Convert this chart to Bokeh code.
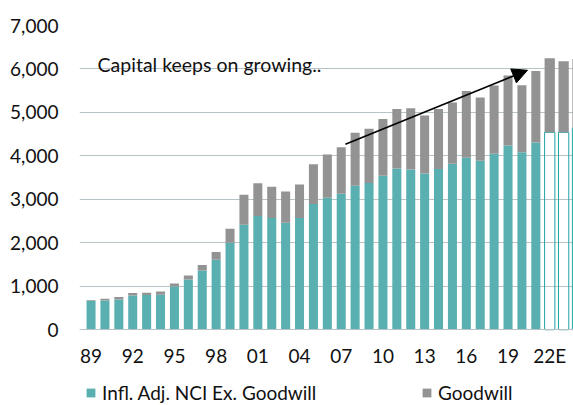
from bokeh.plotting import figure
from bokeh.models import (Range1d, FixedTicker, NumeralTickFormatter, Arrow,
                          NormalHead, Label, Legend, LegendItem, ColumnDataSource)
from bokeh.embed import file_html
from bokeh.resources import INLINE

# Capital by year: inflation-adjusted NCI excluding goodwill, plus goodwill
years = list(range(1989, 2025))
ex_goodwill = [660, 675, 698, 790, 797, 806, 997, 1158, 1365, 1612, 2003, 2418,
               2616, 2570, 2464, 2570, 2893, 3035, 3127, 3312, 3376, 3542, 3707,
               3684, 3592, 3698, 3822, 3960, 3891, 4052, 4237, 4082, 4306,
               4542, 4542, 4640]
goodwill = [20, 39, 53, 53, 55, 76, 69, 92, 123, 175, 322, 690, 756, 722, 716,
            770, 913, 997, 1071, 1223, 1248, 1308, 1373, 1412, 1335, 1382, 1404,
            1534, 1450, 1565, 1611, 1543, 1649, 1705, 1636, 1590]
first_estimate_year = 2022

tick_years = [1989, 1992, 1995, 1998, 2001, 2004, 2007, 2010, 2013, 2016, 2019, 2022]
tick_labels = ["89", "92", "95", "98", "01", "04", "07", "10", "13", "16", "19", "22E"]

TEAL = "#5aafb1"
TEAL_LINE = "#22a3a6"
GREY = "#939393"
GRID = "#b7c3c6"
INK = "#111111"
FONT = "Lato"
FS = "19px"

total = [a + b for a, b in zip(ex_goodwill, goodwill)]
actual = [i for i, y in enumerate(years) if y < first_estimate_year]
est = [i for i, y in enumerate(years) if y >= first_estimate_year]

src_act = ColumnDataSource(dict(x=[years[i] for i in actual],
                                ex=[ex_goodwill[i] for i in actual],
                                tot=[total[i] for i in actual]))
src_est = ColumnDataSource(dict(x=[years[i] for i in est],
                                ex=[ex_goodwill[i] for i in est],
                                tot=[total[i] for i in est]))

# the frame runs to the bottom of the canvas; the x axis sits on the zero line
# and the legend occupies the strip beneath it
p = figure(width=573, height=405, output_backend="svg", toolbar_location=None,
           x_range=Range1d(1988.17, 2023.71), y_range=Range1d(-1743, 7000),
           min_border_left=79, min_border_right=0, min_border_top=25,
           min_border_bottom=0)
p.outline_line_color = None
p.background_fill_color = "white"
p.border_fill_color = "white"

r_ex = p.vbar(x="x", width=0.65, bottom=0, top="ex", source=src_act,
              fill_color=TEAL, line_color=None)
r_gw = p.vbar(x="x", width=0.65, bottom="ex", top="tot", source=src_act,
              fill_color=GREY, line_color=None)
# estimates: hollow outlined base, solid goodwill on top
p.vbar(x="x", width=0.74, bottom=0, top="ex", source=src_est,
       fill_alpha=0, line_color=TEAL_LINE, line_width=1)
p.vbar(x="x", width=0.74, bottom="ex", top="tot", source=src_est,
       fill_color=GREY, line_color=None)

# axes
p.xgrid.grid_line_color = None
p.ygrid.grid_line_color = GRID
p.ygrid.grid_line_width = 1.2
p.yaxis.ticker = FixedTicker(ticks=list(range(0, 7001, 1000)))
p.yaxis.formatter = NumeralTickFormatter(format="0,0")
p.yaxis.axis_line_color = None
p.yaxis.major_tick_line_color = None
p.yaxis.minor_tick_line_color = None
p.yaxis.major_label_standoff = 15
p.xaxis.fixed_location = 0
p.xaxis.ticker = FixedTicker(ticks=tick_years)
p.xaxis.major_label_overrides = {y: l for y, l in zip(tick_years, tick_labels)}
p.xaxis.axis_line_color = GRID
p.xaxis.axis_line_width = 1.2
p.xaxis.major_tick_line_color = None
p.xaxis.minor_tick_line_color = None
p.xaxis.major_label_standoff = 8
for ax in (p.xaxis, p.yaxis):
    ax.major_label_text_font = FONT
    ax.major_label_text_font_size = FS
    ax.major_label_text_color = INK

# annotation
p.add_layout(Label(x=1989.47, y=6100, text="Capital keeps on growing..",
                   text_font=FONT, text_font_size="19.5px", text_color=INK,
                   text_align="left", text_baseline="alphabetic"))
p.add_layout(Arrow(x_start=2007.3, y_start=4267, x_end=2020.4, y_end=5970,
                   line_color="black", line_width=1.6,
                   end=NormalHead(size=15, fill_color="black", line_color="black")))

legend = Legend(items=[LegendItem(label="Infl. Adj. NCI Ex. Goodwill", renderers=[r_ex]),
                       LegendItem(label="Goodwill", renderers=[r_gw])],
                orientation="horizontal", location=(6, 1),
                padding=0, margin=0, spacing=0, border_line_color=None,
                background_fill_alpha=0, glyph_width=11, glyph_height=11,
                label_standoff=6, label_width=319,
                label_text_font=FONT, label_text_font_size=FS,
                label_text_color=INK)
p.add_layout(legend)

open("out.html", "w").write(file_html(p, INLINE))
